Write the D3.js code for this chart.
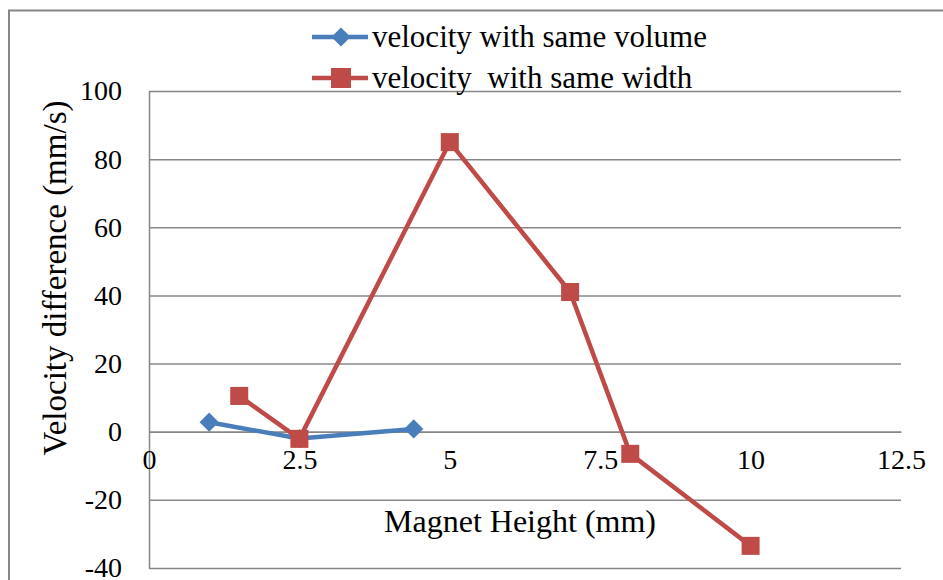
<!DOCTYPE html>
<html>
<head>
<meta charset="utf-8">
<script src="https://cdn.jsdelivr.net/npm/d3@7"></script>
<style>
  html, body { margin: 0; padding: 0; background: #fff; }
  svg { display: block; }
  svg text { font-family: "Liberation Serif", "Tinos", "Times New Roman", "DejaVu Serif", serif !important; fill: #000; }
</style>
</head>
<body>
<svg id="chart" width="943" height="580"></svg>
<script>
// Magnet height (mm) against velocity difference (mm/s)
const volumeX = [1.0, 2.5, 4.4];
const volumeY = [2.8, -2.0, 0.8];
const widthX = [1.5, 2.5, 5.0, 7.0, 8.0, 10.0];
const widthY = [10.5, -2.1, 85.0, 41.0, -6.5, -33.5];
const xTicks = [0, 2.5, 5, 7.5, 10, 12.5];
const yTicks = [-40, -20, 0, 20, 40, 60, 80, 100];
const seriesNames = ["velocity with same volume", "velocity  with same width"];

const svg = d3.select("#chart");
const W = 943, H = 580;
const plotLeft = 149, plotRight = 901, plotTop = 91, plotBottom = 568;

const x = d3.scaleLinear().domain([0, 12.5]).range([plotLeft, plotRight]);
const y = d3.scaleLinear().domain([-40, 100]).range([plotBottom, plotTop]);

const blue = "#4A7EBB", red = "#BE4B48", grid = "#878787";

// outer chart frame (runs off the right and bottom edges)
svg.append("rect")
  .attr("x", 9).attr("y", 10.5)
  .attr("width", W + 20).attr("height", H + 20)
  .attr("fill", "none").attr("stroke", grid).attr("stroke-width", 2);

// horizontal gridlines
svg.append("g")
  .attr("transform", `translate(${plotLeft},0)`)
  .call(d3.axisRight(y).tickValues(yTicks).tickSize(plotRight - plotLeft).tickFormat(""))
  .call(g => g.select(".domain").remove())
  .call(g => g.selectAll("line").attr("stroke", grid).attr("stroke-width", 1.5));

// vertical axis line and labels
svg.append("g")
  .attr("transform", `translate(${plotLeft},0)`)
  .call(d3.axisLeft(y).tickValues(yTicks).tickSize(0).tickPadding(27).tickFormat(d => String(d)))
  .call(g => g.select(".domain").attr("stroke", grid).attr("stroke-width", 1.5))
  .call(g => g.selectAll("text").attr("font-size", 28).attr("fill", "#000"));

// horizontal axis through zero, labels placed below
svg.append("g")
  .attr("transform", `translate(0,${y(0)})`)
  .call(d3.axisBottom(x).tickValues(xTicks).tickSize(0).tickPadding(17).tickFormat(d => String(d)))
  .call(g => g.select(".domain").attr("stroke", grid).attr("stroke-width", 1.5))
  .call(g => g.selectAll("text").attr("font-size", 28).attr("fill", "#000"));

// axis titles
svg.append("text")
  .attr("x", 520).attr("y", 532)
  .attr("text-anchor", "middle").attr("font-size", 32)
  .text("Magnet Height (mm)");

svg.append("text")
  .attr("transform", `translate(66,278) rotate(-90)`)
  .attr("text-anchor", "middle").attr("font-size", 33)
  .text("Velocity difference (mm/s)");

const line = d3.line().x(d => x(d[0])).y(d => y(d[1]));
const volumePts = volumeX.map((v, i) => [v, volumeY[i]]);
const widthPts = widthX.map((v, i) => [v, widthY[i]]);

// diamond marker: a square turned by 45 degrees
const diamondPath = d3.symbol().type(d3.symbolSquare).size(185);

// series: same volume
svg.append("path").datum(volumePts)
  .attr("d", line).attr("fill", "none")
  .attr("stroke", blue).attr("stroke-width", 4.5).attr("stroke-linejoin", "round");
svg.append("g").selectAll("path").data(volumePts).join("path")
  .attr("transform", d => `translate(${x(d[0])},${y(d[1])}) rotate(45)`)
  .attr("d", diamondPath)
  .attr("fill", blue);

// series: same width
svg.append("path").datum(widthPts)
  .attr("d", line).attr("fill", "none")
  .attr("stroke", red).attr("stroke-width", 4.5).attr("stroke-linejoin", "round");
svg.append("g").selectAll("rect").data(widthPts).join("rect")
  .attr("x", d => x(d[0]) - 9).attr("y", d => y(d[1]) - 9)
  .attr("width", 18).attr("height", 18)
  .attr("fill", red);

// legend
const legend = svg.append("g");
const legendY = [37, 78];
const legendColors = [blue, red];
seriesNames.forEach((name, i) => {
  const g = legend.append("g").attr("transform", `translate(0,${legendY[i]})`);
  g.append("line").attr("x1", 312).attr("x2", 368).attr("y1", 0).attr("y2", 0)
    .attr("stroke", legendColors[i]).attr("stroke-width", 4.5);
  if (i === 0) {
    g.append("path").attr("transform", "translate(341,0) rotate(45)")
      .attr("d", diamondPath).attr("fill", blue);
  } else {
    g.append("rect").attr("x", 331).attr("y", -10).attr("width", 20).attr("height", 20).attr("fill", red);
  }
  g.append("text").attr("x", 372).attr("y", 10).attr("font-size", 31)
    .attr("xml:space", "preserve").style("white-space", "pre")
    .text(name);
});
</script>
</body>
</html>
